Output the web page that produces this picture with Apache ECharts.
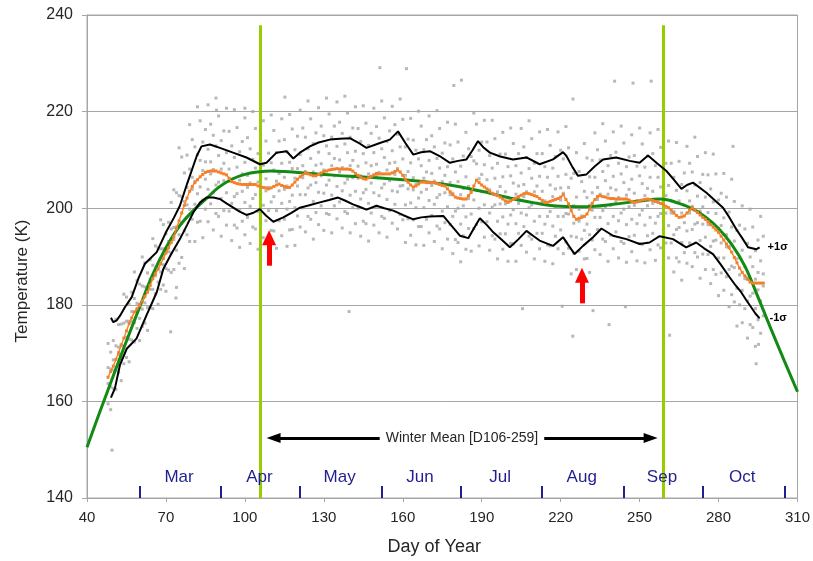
<!DOCTYPE html>
<html>
<head>
<meta charset="utf-8">
<script src="https://cdn.jsdelivr.net/npm/echarts@6/dist/echarts.min.js"></script>
<style>html,body{margin:0;padding:0;background:#fff}#c{width:813px;height:561px}</style>
</head>
<body>
<div id="c"></div>
<script>
// ---- Data ----
const xTicks = [40, 70, 100, 130, 160, 190, 220, 250, 280, 310];
const yTicks = [140, 160, 180, 200, 220, 240];
const monthNames = ['Mar', 'Apr', 'May', 'Jun', 'Jul', 'Aug', 'Sep', 'Oct'];
const monthMidDays = [75, 105.5, 136, 166.5, 197, 228, 258.5, 289];
const monthStartDays = [60, 91, 121, 152, 182, 213, 244, 274, 305];
const winterBounds = [106, 259];

// Daily mean (orange), days 48..297
const meanDays = [];
for (let d = 48; d <= 297; d++) meanDays.push(d);
const meanTemps = [165,166.2,167.3,168.7,170.1,171.6,173.1,174.6,176.1,177.3,178.5,179.2,179.9,180.8,181.7,182.6,184,185.4,186.4,187.4,188.5,189.6,190.7,191.8,192.9,194.1,195.8,197.4,199,200.6,202.1,203.5,204.5,205.3,205.9,206.5,207,207.4,207.6,207.7,207.7,207.7,207.5,207.3,207.1,206.9,206.2,205.5,205.3,205.1,205,204.9,204.9,204.9,204.9,204.9,204.9,204.6,204.4,204.3,204.2,204,204.2,204.5,204.8,205,204.7,204.5,204.3,204.3,204.8,205.4,206,206.5,206.9,207.3,207.1,206.9,206.7,206.7,207,207.3,207.6,207.7,207.9,208,208.1,208.2,208.1,208.1,208.1,208.1,208,207.7,207.2,206.8,206.4,206.1,206,206.3,206.6,206.9,207.2,207.1,207.1,207.1,207.1,207.1,207.3,207.6,207.9,207.5,206.8,206,205.4,204.8,204.4,204.6,205,205.4,205.4,205.3,205.3,205.3,205.3,205.1,204.9,204.7,204.6,204,203.4,202.8,202.3,202.1,202,201.9,201.9,202.6,203.3,204.6,205.8,205.3,204.8,204.4,204,203.5,203.1,202.8,202.6,202.3,201.9,201.5,201.2,201.5,201.8,202.1,202.4,202.7,203,203.1,203,202.8,202.6,202.4,202,201.6,201.2,201.2,201.4,201.6,201.8,202,202.3,202.8,201.8,200.9,199.5,198.3,197.7,197.9,198.1,198.3,198.8,199.8,201,201.8,202.4,202.6,202.4,202.3,202.1,202,202,201.9,201.9,201.9,201.9,201.9,201.7,201.4,201.2,201.3,201.5,201.7,201.8,201.9,201.8,201.6,201.4,201.2,201,200.8,200.4,200.1,199.6,199,198.5,198.1,198.2,198.4,199,199.6,200.1,199.6,199.1,198.6,198.1,197.7,197.2,196.6,196.1,195.5,195,194.2,193.4,192.6,191.8,190.9,189.8,188.7,187.6,186.7,186,185.3,184.7,184.5,184.5,184.5,184.5,184.5];

// +1 sigma (black upper)
const upperDays = [49.1,50,51.3,52.5,54.4,57,59.5,62,66.5,70,73,75.3,78,81.7,83.5,86.7,90.5,95.5,100.6,105.7,108.2,112,115.8,118.4,120.9,124.7,128,132.3,136,139.9,143,146.2,151.3,155.1,158.2,161,164,167,170.3,174,177.9,181,184.2,186.5,188.6,190.8,193.1,197,201.9,207,212,217.1,220.9,222.2,224.5,226.6,229.8,233,236.1,241.1,246.2,250,253.2,256.4,260.2,263,265.9,268,270.3,275.4,281.7,284,286.8,289,291.2,294.3,295.6];
const upperTemps = [177.3,176.4,176.8,177.7,179.5,181.6,185.4,188.5,190.9,195,198,200.5,205,210.8,212.8,213.2,212.5,211.5,210.5,209.1,209.4,211.5,211.8,210.3,211.5,212.8,213.6,214.2,214.4,214.5,213.6,212.5,213.5,214.2,215.9,213.5,211.1,211.6,211.8,210.8,209.4,209.8,210.1,212,213.9,212.5,211.5,210.7,210.1,210.5,209.1,210.1,211.6,210.8,208.5,206.7,207,208.7,210.1,210.5,209.8,209.4,210.9,209.4,207.7,205.9,204,204.8,205.3,203.2,200.1,198.2,195.6,193.8,191.9,191.5,191.9];

// -1 sigma (black lower)
const lowerDays = [49.1,50.6,52.5,55.1,58.8,62.6,66.5,69,72,75.3,78,80.4,83,85.4,88,90.5,93,95.6,98,100.6,103,105.7,108,110.8,114.6,117.5,120.9,124.5,128.5,132,135.4,138,141.1,143.5,146.2,150,153,156.4,160,164,167,170.3,175.4,178.5,181.7,184.9,187,189.3,192,194.4,197.5,200.7,204,207,209.5,212,217.1,220.9,223,225.3,228.5,232.3,235.5,239.9,245,250,253.8,257.6,262.7,267.7,271.5,274.5,277.9,281,284.2,286.5,288.6,290.5,292.4,294,295.6];
const lowerTemps = [160.8,162.7,167.5,170.9,173,177.8,182.6,187.4,190.5,193.6,196.5,199.1,201.2,202.2,202.2,201.9,201,200.1,199.3,198.6,199,199.8,198.5,197.2,198.1,199,200.1,200.6,201.2,201.7,202.2,201.6,200.8,200.3,199.7,200.5,200,199.5,198.6,197.7,198.1,198.3,198.4,196.4,194.3,193.8,195.8,197.9,196.5,195,193.5,191.9,193.6,195.3,194.3,193.3,192.2,194,192.3,190.5,192.2,194,195.8,194.3,193.6,192.6,192.9,194.2,193.6,191.9,192.9,191.7,190.5,188.2,185.7,184,182.6,181,179.5,178.2,177.2];

// Smooth fit (green)
const fitDays = [40,45,50,55,60,65,70,75,80,85,90,95,100,105,110,115,120,130,140,150,160,170,180,190,200,210,220,230,240,250,258,265,270,275,280,285,290,295,300,305,310];
const fitTemps = [150.5,158,165.3,172.5,179.5,186.3,191.8,196.2,199.3,201.8,204.3,206,207,207.5,207.7,207.6,207.4,207,206.6,206.3,205.9,205.4,204.6,203.5,202.2,201.1,200.4,200.3,200.8,201.5,201.9,201,199.9,198.2,195.8,192.5,188,181.6,174.9,168.4,162];

// Individual daily observations (grey dots): [day, t1, t2, t3, t4]
const cloudRows = [
[48,159.5,163.7,167.0,172.0],[49,163.0,166.7,170.2,158.3],[50,166.5,172.6,162.7,168.6],[51,171.5,162.5,177.0,166.5],
[52,166.0,171.2,175.9,169.7],[53,176.0,168.9,164.3,171.8],[54,171.4,176.2,167.8,182.2],[55,169.1,173.3,176.6,181.6],
[56,172.9,176.6,180.1,168.2],[57,176.5,182.6,172.7,178.6],[58,181.3,172.3,186.8,176.3],[59,175.1,180.3,185.0,178.8],
[60,184.3,177.2,172.6,180.1],[61,179.1,183.9,175.5,189.9],[62,176.2,180.4,183.7,188.7],[63,179.4,183.1,186.6,174.7],
[64,183.2,189.3,179.4,185.3],[65,188.2,179.2,193.7,183.2],[66,182.3,187.5,192.2,186.0],[67,191.8,184.7,180.1,187.6],
[68,186.8,191.6,183.2,197.6],[69,184.1,188.3,191.6,196.6],[70,187.5,191.2,194.7,182.8],[71,191.0,197.1,187.2,193.1],
[72,195.7,186.7,201.2,190.7],[73,187.3,196.0,203.8,193.5],[74,203.2,191.3,183.6,196.1],[75,194.5,202.6,188.6,212.5],
[76,189.8,196.9,202.4,210.6],[77,195.3,201.4,207.3,187.5],[78,200.7,211.0,194.5,204.3],[79,208.1,193.1,217.3,199.8],
[80,197.7,206.4,214.2,203.9],[81,212.7,200.8,193.1,205.6],[82,203.0,211.1,197.1,221.0],[83,197.3,204.4,209.9,218.1],
[84,201.7,207.8,213.7,193.9],[85,206.0,216.3,199.8,209.6],[86,212.2,197.2,221.4,203.9],[87,200.9,209.6,217.4,207.1],
[88,215.1,203.2,195.5,208.0],[89,204.8,212.9,198.9,222.8],[90,198.3,205.4,210.9,219.1],[91,202.0,208.1,214.0,194.2],
[92,205.7,216.0,199.5,209.3],[93,211.5,196.5,220.7,203.2],[94,199.4,208.1,215.9,205.6],[95,212.9,201.0,193.3,205.8],
[96,202.4,210.5,196.5,220.4],[97,195.9,203.0,208.5,216.7],[98,199.7,205.8,211.7,191.9],[99,203.5,213.8,197.3,207.1],
[100,209.5,194.5,218.7,201.2],[101,198.1,206.8,214.6,204.3],[102,212.3,200.4,192.7,205.2],[103,202.0,210.1,196.1,220.0],
[104,195.7,202.8,208.3,216.5],[105,199.3,205.4,211.3,191.5],[106,203.0,213.3,196.8,206.6],[107,208.9,193.9,218.1,200.6],
[108,197.4,206.1,213.9,203.6],[109,211.4,199.5,191.8,204.3],[110,201.3,209.4,195.4,219.3],[111,195.3,202.4,207.9,216.1],
[112,199.5,205.6,211.5,191.7],[113,203.6,213.9,197.4,207.2],[114,209.3,194.3,218.5,201.0],[115,197.7,206.4,214.2,203.9],
[116,211.7,199.8,192.1,204.6],[117,201.4,209.5,195.5,219.4],[118,195.6,202.7,208.2,216.4],[119,200.1,206.2,212.1,192.3],
[120,204.6,214.9,198.4,208.2],[121,211.1,196.1,220.3,202.8],[122,200.1,208.8,216.6,206.3],[123,214.7,202.8,195.1,207.6],
[124,204.2,212.3,198.3,222.2],[125,197.7,204.8,210.3,218.5],[126,201.4,207.5,213.4,193.6],[127,205.3,215.6,199.1,208.9],
[128,211.6,196.6,220.8,203.3],[129,200.5,209.2,217.0,206.7],[130,215.0,203.1,195.4,207.9],[131,204.8,212.9,198.9,222.8],
[132,198.7,205.8,211.3,219.5],[133,202.7,208.8,214.7,194.9],[134,206.7,217.0,200.5,210.3],[135,212.8,197.8,222.0,204.5],
[136,201.3,210.0,217.8,207.5],[137,215.5,203.6,195.9,208.4],[138,205.2,213.3,199.3,223.2],[139,198.9,206.0,211.5,219.7],
[140,202.7,208.8,214.7,194.9],[141,206.3,216.6,200.1,209.9],[142,211.8,196.8,221.0,203.5],[143,200.0,208.7,216.5,206.2],
[144,213.8,201.9,194.2,206.7],[145,203.2,211.3,197.3,221.2],[146,196.8,203.9,209.4,217.6],[147,201.0,207.1,213.0,193.2],
[148,205.2,215.5,199.0,208.8],[149,211.5,196.5,220.7,203.2],[150,200.4,209.1,216.9,206.6],[151,214.5,202.6,194.9,207.4],
[152,204.2,212.3,198.3,222.2],[153,197.9,205.0,210.5,218.7],[154,201.8,207.9,213.8,194.0],[155,205.7,216.0,199.5,209.3],
[156,211.9,196.9,221.1,203.6],[157,200.8,209.5,217.3,207.0],[158,215.3,203.4,195.7,208.2],[159,204.6,212.7,198.7,222.6],
[160,197.6,204.7,210.2,218.4],[161,200.7,206.8,212.7,192.9],[162,204.0,214.3,197.8,207.6],[163,209.4,194.4,218.6,201.1],
[164,197.6,206.3,214.1,203.8],[165,212.0,200.1,192.4,204.9],[166,202.1,210.2,196.2,220.1],[167,196.2,203.3,208.8,217.0],
[168,200.1,206.2,212.1,192.3],[169,203.9,214.2,197.7,207.5],[170,209.9,194.9,219.1,201.6],[171,198.5,207.2,215.0,204.7],
[172,212.7,200.8,193.1,205.6],[173,202.2,210.3,196.3,220.2],[174,195.7,202.8,208.3,216.5],[175,199.4,205.5,211.4,191.6],
[176,203.2,213.5,197.0,206.8],[177,208.6,193.6,217.8,200.3],[178,196.6,205.3,213.1,202.8],[179,210.2,198.3,190.6,203.1],
[180,199.4,207.5,193.5,217.4],[181,192.9,200.0,205.5,213.7],[182,196.7,202.8,208.7,188.9],[183,200.5,210.8,194.3,204.1],
[184,206.5,191.5,215.7,198.2],[185,195.8,204.5,212.3,202.0],[186,210.7,198.8,191.1,203.6],[187,201.7,209.8,195.8,219.7],
[188,196.6,203.7,209.2,217.4],[189,200.0,206.1,212.0,192.2],[190,203.4,213.7,197.2,207.0],[191,209.0,194.0,218.2,200.7],
[192,197.2,205.9,213.7,203.4],[193,210.9,199.0,191.3,203.8],[194,200.2,208.3,194.3,218.2],[195,193.6,200.7,206.2,214.4],
[196,197.3,203.4,209.3,189.5],[197,200.9,211.2,194.7,204.5],[198,206.5,191.5,215.7,198.2],[199,194.7,203.4,211.2,200.9],
[200,208.6,196.7,189.0,201.5],[201,198.6,206.7,192.7,216.6],[202,192.6,199.7,205.2,213.4],[203,196.8,202.9,208.8,189.0],
[204,201.0,211.3,194.8,204.6],[205,207.3,192.3,216.5,199.0],[206,196.2,204.9,212.7,202.4],[207,210.5,198.6,190.9,203.4],
[208,200.1,208.2,194.2,218.1],[209,193.6,200.7,206.2,214.4],[210,197.3,203.4,209.3,189.5],[211,201.0,211.3,194.8,204.6],
[212,206.6,191.6,215.8,198.3],[213,194.8,203.5,211.3,201.0],[214,208.6,196.7,189.0,201.5],[215,198.3,206.4,192.4,216.3],
[216,192.2,199.3,204.8,213.0],[217,196.3,202.4,208.3,188.5],[218,200.4,210.7,194.2,204.0],[219,206.6,191.6,215.8,198.3],
[220,195.5,204.2,212.0,201.7],[221,210.2,198.3,190.6,203.1],[222,198.9,207.0,193.0,216.9],[223,191.7,198.8,204.3,212.5],
[224,194.2,200.3,206.2,186.4],[225,196.9,207.2,190.7,200.5],[226,202.3,187.3,211.5,194.0],[227,191.1,199.8,207.6,197.3],
[228,205.5,193.6,185.9,198.4],[229,195.4,203.5,189.5,213.4],[230,189.6,196.7,202.2,210.4],[231,194.5,200.6,206.5,186.7],
[232,199.6,209.9,193.4,203.2],[233,206.4,191.4,215.6,198.1],[234,195.6,204.3,212.1,201.8],[235,210.0,198.1,190.4,202.9],
[236,199.5,207.6,193.6,217.5],[237,193.1,200.2,205.7,213.9],[238,196.8,202.9,208.8,189.0],[239,200.6,210.9,194.4,204.2],
[240,206.6,191.6,215.8,198.3],[241,195.1,203.8,211.6,201.3],[242,209.3,197.4,189.7,202.2],[243,199.0,207.1,193.1,217.0],
[244,192.7,199.8,205.3,213.5],[245,196.6,202.7,208.6,188.8],[246,200.3,210.6,194.1,203.9],[247,206.0,191.0,215.2,197.7],
[248,194.4,203.1,210.9,200.6],[249,208.7,196.8,189.1,201.6],[250,198.6,206.7,192.7,216.6],[251,192.5,199.6,205.1,213.3],
[252,196.5,202.6,208.5,188.7],[253,200.5,210.8,194.3,204.1],[254,206.4,191.4,215.6,198.1],[255,194.8,203.5,211.3,201.0],
[256,208.8,196.9,189.2,201.7],[257,198.3,206.4,192.4,216.3],[258,191.8,198.9,204.4,212.6],[259,195.5,201.6,207.5,187.7],
[260,199.0,209.3,192.8,202.6],[261,204.7,189.7,213.9,196.4],[262,192.8,201.5,209.3,199.0],[263,206.4,194.5,186.8,199.3],
[264,195.6,203.7,189.7,213.6],[265,188.9,196.0,201.5,209.7],[266,192.9,199.0,204.9,185.1],[267,197.0,207.3,190.8,200.6],
[268,203.6,188.6,212.8,195.3],[269,192.8,201.5,209.3,199.0],[270,207.5,195.6,187.9,200.4],[271,196.7,204.8,190.8,214.7],
[272,189.9,197.0,202.5,210.7],[273,193.3,199.4,205.3,185.5],[274,196.7,207.0,190.5,200.3],[275,202.3,187.3,211.5,194.0],
[276,190.4,199.1,206.9,196.6],[277,204.0,192.1,184.4,196.9],[278,193.2,201.3,187.3,211.2],[279,186.3,193.4,198.9,207.1],
[280,189.7,195.8,201.7,181.9],[281,192.8,203.1,186.6,196.4],[282,198.0,183.0,207.2,189.7],[283,185.8,194.5,202.3,192.0],
[284,199.2,187.3,179.6,192.1],[285,188.0,196.1,182.1,206.0],[286,180.6,187.7,193.2,201.4],[287,183.4,189.5,195.4,175.6],
[288,186.2,196.5,180.0,189.8],[289,191.3,176.3,200.5,183.0],[290,179.2,187.9,195.7,185.4],[291,192.7,180.8,173.1,185.6],
[292,181.8,189.9,175.9,199.8],[293,175.3,182.4,187.9,196.1],[294,179.2,185.3,191.2,171.4],[295,183.1,193.4,176.9,186.7],
[296,189.1,174.1,198.3,180.8],[297,177.7,186.4,194.2,183.9]
];
const outlierPoints = [[49.5,149.9],[71.8,174.4],[73.8,181.4],[139.6,178.6],[205.5,179.2],[220.6,179.7],[224.6,173.5],[238.4,175.9],[232.3,178.8],[244.6,179.6],[261.4,173.7],[294.3,167.8],[295.2,171.8],[151.3,229.1],[161.4,228.9],[182.3,226.5],[179.4,225.4],[115.2,223],[89.2,220.3],[100,220.7],[240.5,226.3],[247.5,225.9],[254.4,226.3],[224.7,222.6],[285.5,212.8]];

// Annotation anchors
const redArrows = [[109.2, 188.1, 193.9], [228.1, 180.3, 186.1]]; // day, tail, head-centre
const winterArrowSpan = [110.9, 254.2];
const winterArrowLevel = 152.4;
const winterLabel = 'Winter Mean [D106-259]';
const winterLabelDay = 182.5;
const monthLabelLevel = 144.3;
const monthTickTop = 142.5;
const greenLineTop = 237.9;

// ---- Build series data ----
const scatterData = [];
cloudRows.forEach(r => { for (let i = 1; i < r.length; i++) scatterData.push([r[0], r[i]]); });
outlierPoints.forEach(p => scatterData.push(p));
const zip = (a, b) => a.map((v, i) => [v, b[i]]);

const FONT = '"Liberation Sans", Arial, sans-serif';
const NAVY = '#1f1f8f';

const chart = echarts.init(document.getElementById('c'), null, {renderer: 'canvas'});
chart.setOption({
  animation: false,
  backgroundColor: '#fff',
  grid: {left: 87, right: 15, top: 15, bottom: 61, show: true, borderColor: '#a6a6a6', borderWidth: 1},
  xAxis: {
    type: 'value', min: xTicks[0], max: xTicks[xTicks.length - 1], interval: 30,
    name: 'Day of Year', nameLocation: 'middle', nameGap: 40,
    nameTextStyle: {fontFamily: FONT, fontSize: 18, color: '#262626', padding: [0, 16, 0, 0]},
    axisLine: {lineStyle: {color: '#a6a6a6', width: 1}},
    axisTick: {show: true, length: 4, lineStyle: {color: '#a6a6a6'}},
    axisLabel: {fontFamily: FONT, fontSize: 15, color: '#262626', margin: 12},
    splitLine: {show: false}
  },
  yAxis: {
    type: 'value', min: yTicks[0], max: yTicks[yTicks.length - 1], interval: 20,
    axisLine: {show: true, lineStyle: {color: '#a6a6a6', width: 1}},
    axisTick: {show: true, length: 5, lineStyle: {color: '#a6a6a6'}},
    axisLabel: {fontFamily: FONT, fontSize: 16, color: '#262626', margin: 14},
    splitLine: {show: true, lineStyle: {color: '#a6a6a6', width: 1}}
  },
  graphic: [
    {
      type: 'text', x: 22, y: 281, rotation: Math.PI / 2, z: 100,
      style: {text: 'Temperature (K)', fontFamily: FONT, fontSize: 17, fill: '#262626', textAlign: 'center', textVerticalAlign: 'middle'}
    }
  ],
  series: [
    {
      type: 'scatter', name: 'obs', data: scatterData, symbol: 'rect', symbolSize: 3,
      itemStyle: {color: '#a6a6a6'}, z: 1, silent: true
    },
    {
      type: 'line', name: 'winter', data: [], z: 2, silent: true,
      markLine: {
        silent: true, symbol: ['none', 'none'], label: {show: false},
        lineStyle: {color: '#99cc00', width: 3, type: 'solid'},
        data: winterBounds.map(d => [{coord: [d, yTicks[0]]}, {coord: [d, greenLineTop]}])
      }
    },
    {
      type: 'line', name: 'fit', data: zip(fitDays, fitTemps), smooth: 0.4, showSymbol: false,
      lineStyle: {color: '#138a13', width: 3}, z: 5, silent: true
    },
    {
      type: 'line', name: 'mean', data: zip(meanDays, meanTemps), symbol: 'rect', symbolSize: 3, showSymbol: true,
      lineStyle: {color: '#f5802a', width: 1.4}, itemStyle: {color: '#f5802a'}, z: 6, silent: true
    },
    {
      type: 'line', name: 'upper', data: zip(upperDays, upperTemps), showSymbol: false,
      lineStyle: {color: '#000', width: 2}, z: 7, silent: true,
      endLabel: {show: true, formatter: '+1σ', distance: 8, fontFamily: FONT, fontSize: 11, fontWeight: 'bold', color: '#000'}
    },
    {
      type: 'line', name: 'lower', data: zip(lowerDays, lowerTemps), showSymbol: false,
      lineStyle: {color: '#000', width: 2}, z: 7, silent: true,
      endLabel: {show: true, formatter: '-1σ', distance: 10, fontFamily: FONT, fontSize: 11, fontWeight: 'bold', color: '#000'}
    },
    {
      type: 'line', name: 'annot', data: [], z: 8, silent: true,
      markLine: {
        silent: true, label: {show: false}, precision: 4,
        data: [
          ...redArrows.map(a => [
            {coord: [a[0], a[1]], symbol: 'none', lineStyle: {color: '#ff0000', width: 5, type: 'solid'}},
            {coord: [a[0], a[2]], symbol: 'triangle', symbolSize: [14, 15]}
          ]),
          [
            {coord: [winterArrowSpan[0], winterArrowLevel], symbol: 'triangle', symbolSize: [10, 14], lineStyle: {color: '#000', width: 3, type: 'solid'}},
            {coord: [winterArrowSpan[1], winterArrowLevel], symbol: 'triangle', symbolSize: [10, 14]}
          ]
        ]
      }
    },
    {
      type: 'line', name: 'monthTicks', data: [], z: 8, silent: true,
      markLine: {
        silent: true, symbol: ['none', 'none'], label: {show: false},
        lineStyle: {color: NAVY, width: 2, type: 'solid'},
        data: monthStartDays.map(d => [{coord: [d, yTicks[0]]}, {coord: [d, monthTickTop]}])
      }
    },
    {
      type: 'scatter', name: 'monthLabels', silent: true, z: 9,
      data: monthMidDays.map((d, i) => [d, monthLabelLevel, monthNames[i]]),
      symbolSize: 1, itemStyle: {color: '#fff', opacity: 0},
      label: {show: true, position: 'inside', formatter: p => p.data[2], fontFamily: FONT, fontSize: 17,
        color: NAVY, opacity: 1, textBorderWidth: 0}
    },
    {
      type: 'scatter', name: 'winterLabel', silent: true, z: 10,
      data: [[winterLabelDay, winterArrowLevel]],
      symbolSize: 1, itemStyle: {color: '#fff', opacity: 0},
      label: {show: true, position: 'inside', formatter: winterLabel, fontFamily: FONT, fontSize: 14, color: '#262626',
        opacity: 1, textBorderWidth: 0, backgroundColor: '#fff', padding: [2, 6]}
    }
  ]
});
</script>
</body>
</html>
